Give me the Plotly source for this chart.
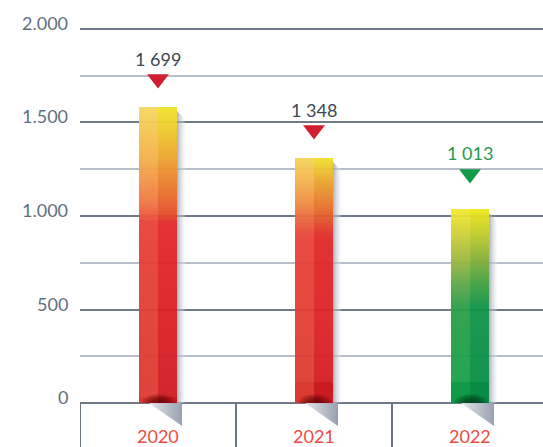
import numpy as np
import plotly.graph_objects as go

# ---- data ----
years = ["2020", "2021", "2022"]
bar_heights = [1583, 1310, 1037]          # bar tops as drawn
value_labels = ["1 699", "1 348", "1 013"]
y_ticks = [0, 500, 1000, 1500, 2000]
y_tick_labels = ["0", "500", "1.000", "1.500", "2.000"]
minor_ticks = [250, 750, 1250, 1750]

# ---- styles ----
label_colors = ["#3d4852", "#3d4852", "#1f9a50"]
tri_colors = ["#d01f2e", "#d01f2e", "#139a48"]
tri_offset_px = [28, 28, 35]
label_offset_px = [48, 48, 56]
band_px = [6, 21, 21]
left_scales = [
    [[0, "#dc3a30"], [0.35, "#e23e34"], [0.61, "#e84038"], [0.635, "#ec5a3c"],
     [0.686, "#f07a44"], [0.82, "#f3ae4a"], [0.946, "#f5cc55"], [1, "#f5d862"]],
    [[0, "#dc3a30"], [0.3, "#e23e34"], [0.665, "#e84038"], [0.698, "#e84a38"],
     [0.759, "#ea6a3c"], [0.808, "#ee8842"], [0.898, "#f2b04c"], [1, "#f6d45a"]],
    [[0, "#14a04a"], [0.495, "#2a9e48"], [0.619, "#60a848"], [0.747, "#a0b840"],
     [0.876, "#d0d038"], [1, "#f2ea30"]],
]
right_scales = [
    [[0, "#cf1a22"], [0.35, "#dc2226"], [0.61, "#e2282a"], [0.635, "#e44a2a"],
     [0.686, "#e8642a"], [0.82, "#eca030"], [0.946, "#eed22a"], [1, "#f0e22a"]],
    [[0, "#cf1a22"], [0.3, "#dc2226"], [0.665, "#e02828"], [0.698, "#e03228"],
     [0.759, "#e25a2a"], [0.808, "#e6742a"], [0.898, "#eaa02e"], [1, "#f0e02c"]],
    [[0, "#068c44"], [0.495, "#109448"], [0.619, "#40a040"], [0.747, "#88b038"],
     [0.876, "#c0cc28"], [1, "#eee818"]],
]
band_left = ["#d93a2f", "#d93a2f", "#109a48"]
band_right = ["#c91a22", "#c91a22", "#0a8a44"]
blob_colors = ["rgba(80,0,0,", "rgba(80,0,0,", "rgba(0,45,18,"]

W, H = 543, 447
ML, MR, MT, MB = 80, 0, 20, 0
XR = [-0.5, 2.468]
YR = [-235, 2048]
ux = (XR[1] - XR[0]) / (W - ML - MR)
uy = (YR[1] - YR[0]) / (H - MT - MB)
hw = 19 * ux

FONT = "Lato"
fig = go.Figure()

def poly(xs, ys, **kw):
    fig.add_trace(go.Scatter(x=xs, y=ys, mode="lines", fill="toself",
                             line=dict(width=0), hoverinfo="skip",
                             showlegend=False, **kw))

for i, h in enumerate(bar_heights):
    c = i
    # side shadow strip
    poly([c + hw, c + hw + 8 * ux, c + hw + 8 * ux, c + hw, c + hw],
         [h - 4 * uy, h - 12 * uy, 0, 0, h - 4 * uy],
         fillgradient=dict(type="horizontal",
                           colorscale=[[0, "rgba(150,156,172,0.8)"], [1, "rgba(235,237,242,0.25)"]]))
    # bottom triangular shadow
    poly([c - 9 * ux, c + hw + 5 * ux, c + hw + 5 * ux, c - 9 * ux],
         [0, 0, -23 * uy, 0],
         fillgradient=dict(type="horizontal",
                           colorscale=[[0, "#e4e6eb"], [1, "#98a0b0"]]))
    # bar halves
    poly([c - hw, c, c, c - hw, c - hw], [0, 0, h, h, 0], opacity=0.95,
         fillgradient=dict(type="vertical", colorscale=left_scales[i]))
    poly([c, c + hw, c + hw, c, c], [0, 0, h, h, 0], opacity=0.95,
         fillgradient=dict(type="vertical", colorscale=right_scales[i]))
    # bottom band
    bh = band_px[i] * uy
    poly([c - hw, c, c, c - hw, c - hw], [0, 0, bh, bh, 0], fillcolor=band_left[i], opacity=0.95)
    poly([c, c + hw, c + hw, c, c], [0, 0, bh, bh, 0], fillcolor=band_right[i], opacity=0.95)
    # dark soft base shadow (stacked half ellipses)
    t = np.linspace(0, np.pi, 40)
    cx = c + 1 * ux
    for k in range(6):
        wpx = 17 - 2.2 * k
        hpx = 9 - 1.1 * k
        poly(list(cx + wpx * ux * np.cos(t)), list(hpx * uy * np.sin(t)),
             fillcolor=blob_colors[i] + "0.16)")
    # triangle marker
    fig.add_trace(go.Scatter(x=[c], y=[h + tri_offset_px[i] * uy], mode="markers",
                             marker=dict(symbol="triangle-down", size=19, color=tri_colors[i]),
                             hoverinfo="skip", showlegend=False))
    # value label
    fig.add_annotation(x=c, y=h, yshift=label_offset_px[i], text=value_labels[i],
                       showarrow=False, yanchor="middle",
                       font=dict(family=FONT, size=18, color=label_colors[i]))
    # year label
    fig.add_annotation(x=c, y=0, yshift=-33, text=years[i], showarrow=False,
                       yanchor="middle", font=dict(family=FONT, size=18, color="#ee4b43"))

# category dividers
for k in range(len(years)):
    fig.add_shape(type="line", x0=k - 0.5, x1=k - 0.5, y0=YR[0], y1=0,
                  line=dict(color="#6b7785", width=2))

# y tick labels
for v, t in zip(y_ticks, y_tick_labels):
    fig.add_annotation(xref="paper", x=0, y=v, xanchor="right", xshift=-10, yshift=6,
                       text=t, showarrow=False, yanchor="middle",
                       font=dict(family=FONT, size=18, color="#5f7080"))

fig.update_layout(
    width=W, height=H, margin=dict(l=ML, r=MR, t=MT, b=MB),
    paper_bgcolor="white", plot_bgcolor="white", showlegend=False,
    xaxis=dict(range=XR, showgrid=False, zeroline=False, showticklabels=False, fixedrange=True),
    yaxis=dict(range=YR, tickmode="array", tickvals=y_ticks, showticklabels=False,
               gridcolor="#6f7987", gridwidth=2, zeroline=False,
               minor=dict(tickmode="array", tickvals=minor_ticks, showgrid=True,
                          gridcolor="#b9bfca", gridwidth=1.5)),
)
fig.write_html("out.html")
